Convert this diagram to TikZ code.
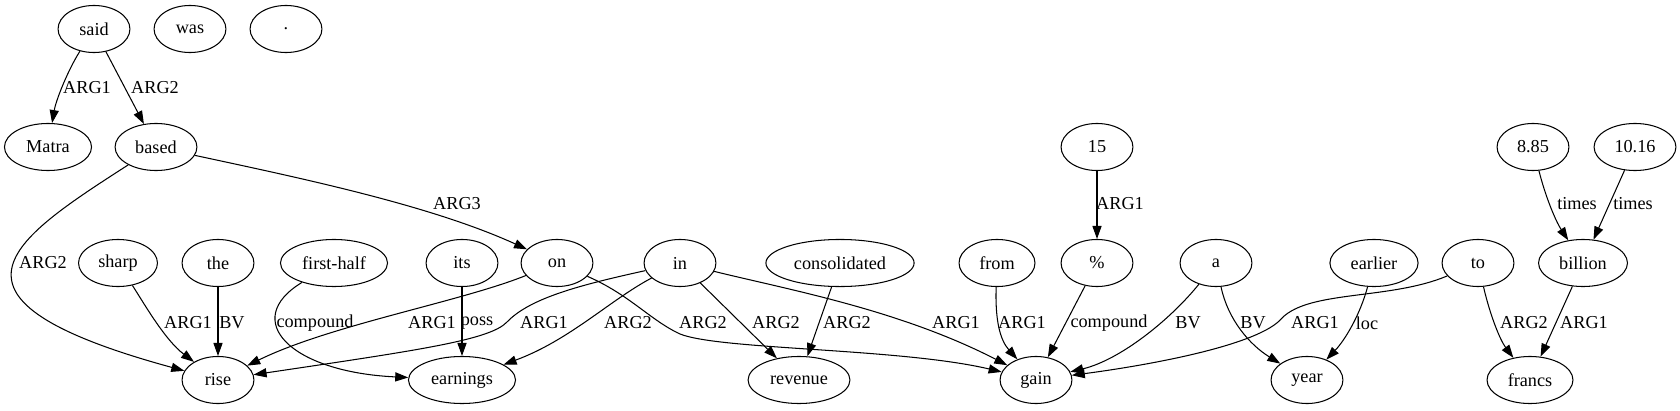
\documentclass[tikz,border=0pt]{standalone}
\usepackage{fontspec}
\setmainfont{Liberation Serif}
\usetikzlibrary{shapes.geometric, arrows.meta}

\begin{document}
\begin{tikzpicture}[
        % one unit = one pixel of the layout, y grows downwards
        x=0.027cm, y=-0.027cm,
        every node/.style={font=\rmfamily\fontsize{14pt}{16pt}\selectfont},
        word/.style={draw, ellipse, line width=0.8pt, inner sep=0pt,
                     minimum width=1.94cm, minimum height=1.27cm},
        lbl/.style={inner sep=0pt},
        arc/.style={-{Triangle[length=10pt, width=7pt]}, line width=0.8pt}
    ]
    \useasboundingbox (0,0) rectangle (1680,411);

    % --- Top row ---
    \node[word] (said) at (94,29) {said};
    \node[word] (was) at (190,29) {was};
    \node[word] (dot) at (286,29) {.};

    % --- Second row ---
    \node[word, minimum width=2.35cm] (Matra) at (48,147) {Matra};
    \node[word, minimum width=2.21cm] (based) at (156,147) {based};
    \node[word] (q15) at (1097,147) {15};
    \node[word] (q885) at (1533,147) {8.85};
    \node[word, minimum width=2.21cm] (q1016) at (1635,147) {10.16};

    % --- Third row ---
    \node[word, minimum width=2.13cm] (sharp) at (118,263) {sharp};
    \node[word] (the) at (218,263) {the};
    \node[word, minimum width=2.89cm] (half) at (334,263) {first-half};
    \node[word] (its) at (462,263) {its};
    \node[word] (on) at (557,263) {on};
    \node[word] (in) at (680,263) {in};
    \node[word, minimum width=4.0cm] (cons) at (840,263) {consolidated};
    \node[word, minimum width=2.05cm] (from) at (997,263) {from};
    \node[word] (pct) at (1097,263) {\%};
    \node[word] (a) at (1216,263) {a};
    \node[word, minimum width=2.38cm] (earlier) at (1374,263) {earlier};
    \node[word] (to) at (1478,263) {to};
    \node[word, minimum width=2.4cm] (billion) at (1583,263) {billion};

    % --- Bottom row ---
    \node[word] (rise) at (218,380) {rise};
    \node[word, minimum width=2.89cm] (earn) at (462,380) {earnings};
    \node[word, minimum width=2.75cm] (rev) at (799,380) {revenue};
    \node[word] (gain) at (1036,380) {gain};
    \node[word] (year) at (1307,380) {year};
    \node[word, minimum width=2.32cm] (francs) at (1530,380) {francs};

    % --- Arcs from the top ---
    \draw[arc] (said) .. controls (68,70) and (56,100) .. (Matra)
        node[lbl] at (87,88) {ARG1};
    \draw[arc] (said) -- (based)
        node[lbl] at (155,88) {ARG2};
    \draw[arc] (based) .. controls (10,241) and (-79,299) .. (rise)
        node[lbl] at (43,263) {ARG2};
    \draw[arc] (based) .. controls (300,178) and (430,205) .. (on)
        node[lbl] at (457,204) {ARG3};
    \draw[arc] (q15) -- (pct)
        node[lbl] at (1120,204) {ARG1};
    \draw[arc] (q885) .. controls (1545,195) and (1555,220) .. (billion)
        node[lbl] at (1577,204) {times};
    \draw[arc] (q1016) -- (billion)
        node[lbl] at (1633,204) {times};

    % --- Arcs into rise and earnings ---
    \draw[arc] (sharp) .. controls (145,305) and (165,340) .. (rise)
        node[lbl] at (188,323) {ARG1};
    \draw[arc] (the) -- (rise)
        node[lbl] at (232,323) {BV};
    \draw[arc] (half) .. controls (240,320) and (290,372) .. (earn)
        node[lbl] at (315,323) {compound};
    \draw[arc] (its) -- (earn)
        node[lbl] at (477,323) {poss};
    \draw[arc] (on) .. controls (460,302) and (330,325) .. (rise)
        node[lbl] at (432,323) {ARG1};
    \draw[arc] (in) .. controls (580,285) and (530,298) .. (507,322)
        .. controls (490,340) and (420,350) .. (rise)
        node[lbl] at (544,323) {ARG1};
    \draw[arc] (in) .. controls (610,300) and (570,340) .. (earn)
        node[lbl] at (628,323) {ARG2};

    % --- Arcs into revenue and gain ---
    \draw[arc] (on) .. controls (630,295) and (650,320) .. (680,334)
        .. controls (720,350) and (900,348) .. (gain)
        node[lbl] at (703,323) {ARG2};
    \draw[arc] (in) -- (rev)
        node[lbl] at (776,323) {ARG2};
    \draw[arc] (cons) -- (rev)
        node[lbl] at (847,323) {ARG2};
    \draw[arc] (in) .. controls (790,290) and (900,310) .. (gain)
        node[lbl] at (956,323) {ARG1};
    \draw[arc] (from) .. controls (995,320) and (1000,340) .. (gain)
        node[lbl] at (1022,323) {ARG1};
    \draw[arc] (pct) -- (gain)
        node[lbl] at (1109,323) {compound};
    \draw[arc] (a) .. controls (1170,320) and (1120,360) .. (gain)
        node[lbl] at (1188,323) {BV};
    \draw[arc] (to) .. controls (1390,300) and (1310,290) .. (1282,318)
        .. controls (1260,345) and (1150,365) .. (gain)
        node[lbl] at (1315,323) {ARG1};

    % --- Arcs into year and francs ---
    \draw[arc] (a) .. controls (1228,320) and (1250,345) .. (year)
        node[lbl] at (1253,323) {BV};
    \draw[arc] (earlier) .. controls (1360,315) and (1345,340) .. (year)
        node[lbl] at (1367,323) {loc};
    \draw[arc] (to) .. controls (1490,315) and (1500,340) .. (francs)
        node[lbl] at (1524,323) {ARG2};
    \draw[arc] (billion) -- (francs)
        node[lbl] at (1584,323) {ARG1};

\end{tikzpicture}
\end{document}
